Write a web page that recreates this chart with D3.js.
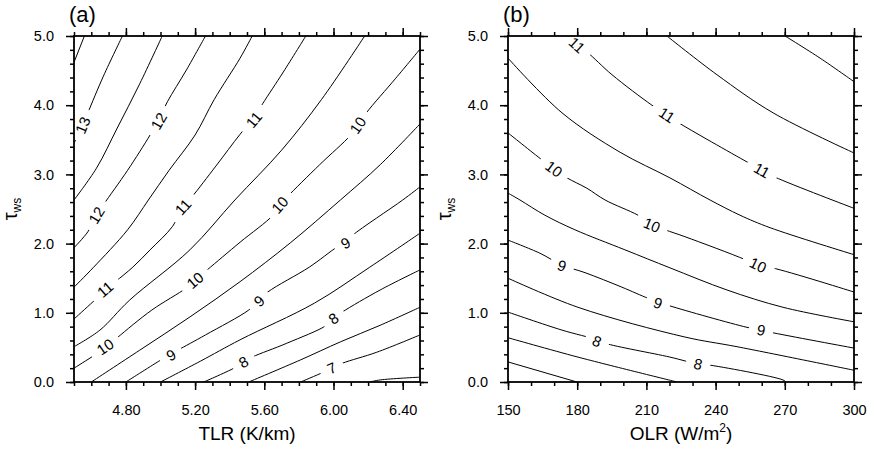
<!DOCTYPE html>
<meta charset="utf-8">
<script src="https://d3js.org/d3.v7.min.js"></script>
<style>
  body { margin: 0; background: #fff; }
  text { font-family: "Liberation Sans", Arial, Helvetica, sans-serif; fill: #000; }
</style>
<svg id="chart" width="870" height="453"></svg>
<script>

// ---- axes ----
var tauTicks = [0, 1, 2, 3, 4, 5];
var tlrTicks = [4.8, 5.2, 5.6, 6.0, 6.4];
var olrTicks = [150, 180, 210, 240, 270, 300];

// ---- panel (a): contours every 0.5, [TLR, tau] ----
var levelsA = [13.5, 13, 12.5, 12, 11.5, 11, 10.5, 10, 9.5, 9, 8.5, 8, 7.5, 7, 6.5];
var linesA = [
  [[4.56,5.0],[4.50,4.62]],
  [[4.78,5.0],[4.67,4.42],[4.58,3.89],[4.55,3.71],[4.50,3.45]],
  [[5.01,5.0],[4.88,4.31],[4.75,3.67],[4.63,3.09],[4.50,2.63]],
  [[5.26,5.0],[5.15,4.51],[5.04,4.05],[4.99,3.79],[4.94,3.57],[4.81,3.06],[4.67,2.56],[4.63,2.40],[4.58,2.17],[4.50,1.94]],
  [[5.53,5.0],[5.46,4.68],[5.31,4.08],[5.20,3.57],[5.05,3.06],[4.93,2.63],[4.81,2.20],[4.61,1.65],[4.50,1.37]],
  [[5.84,5.0],[5.71,4.48],[5.59,4.02],[5.54,3.82],[5.46,3.58],[5.32,3.12],[5.18,2.67],[5.13,2.53],[5.07,2.25],[4.94,1.91],[4.84,1.66],[4.74,1.45],[4.68,1.32],[4.61,1.16],[4.50,0.91]],
  [[6.18,5.0],[5.93,4.08],[5.70,3.35],[5.43,2.63],[5.17,1.91],[4.82,1.18],[4.65,0.75],[4.50,0.51]],
  [[6.50,4.81],[6.36,4.39],[6.19,3.89],[6.14,3.71],[6.10,3.57],[5.92,3.14],[5.73,2.67],[5.69,2.56],[5.65,2.41],[5.46,2.02],[5.27,1.62],[5.20,1.47],[5.15,1.36],[4.95,1.04],[4.75,0.64],[4.69,0.51],[4.62,0.39],[4.50,0.20]],
  [[6.50,3.73],[6.27,3.14],[6.04,2.63],[5.75,2.01],[5.46,1.45],[5.17,0.94],[4.88,0.46],[4.60,0]],
  [[6.50,2.82],[6.40,2.63],[6.11,2.12],[6.07,2.02],[6.02,1.95],[5.86,1.66],[5.62,1.30],[5.56,1.16],[5.51,1.04],[5.26,0.68],[5.10,0.46],[5.05,0.39],[4.99,0.30],[4.80,0]],
  [[6.50,2.15],[6.21,1.66],[5.89,1.14],[5.46,0.61],[5.23,0.30],[5.00,0]],
  [[6.50,1.62],[6.27,1.33],[6.05,1.01],[6.00,0.92],[5.96,0.82],[5.73,0.56],[5.53,0.36],[5.48,0.29],[5.44,0.22],[5.25,0]],
  [[6.50,1.08],[6.27,0.82],[6.04,0.58],[5.81,0.32],[5.51,0]],
  [[6.50,0.68],[6.25,0.43],[6.05,0.27],[5.99,0.20],[5.94,0.14],[5.81,0]],
  [[6.21,0],[6.27,0.03],[6.50,0.07]]
];
// [level, TLR, tau]
var labelsA = [
  [13, 4.55, 3.71],
  [12, 4.99, 3.77], [12, 4.63, 2.41],
  [11, 5.54, 3.79], [11, 5.13, 2.53], [11, 4.68, 1.34],
  [10, 6.14, 3.71], [10, 5.69, 2.56], [10, 5.20, 1.47], [10, 4.68, 0.51],
  [9, 6.07, 2.01], [9, 5.57, 1.17], [9, 5.06, 0.39],
  [8, 6.00, 0.92], [8, 5.48, 0.29],
  [7, 5.99, 0.20]
];

// ---- panel (b): contours every 0.5, [OLR, tau] ----
var levelsB = [12, 11.5, 11, 10.5, 10, 9.5, 9, 8.5, 8, 7.5, 7];
var linesB = [
  [[270.1,5.0],[285.3,4.68],[300,4.34]],
  [[218.9,5.0],[240.6,4.44],[264.9,3.89],[300,3.31]],
  [[175.6,5.0],[179.9,4.87],[184.2,4.77],[195.1,4.44],[212.4,4.00],[218.9,3.86],[223.3,3.76],[253.6,3.18],[260.1,3.06],[265.8,2.96],[300,2.51]],
  [[150,4.68],[173.4,3.89],[198.6,3.32],[220.2,2.95],[237.6,2.63],[250.6,2.41],[263.6,2.23],[300,1.84]],
  [[150,3.60],[164.7,3.21],[169.9,3.08],[175.6,2.95],[184.2,2.80],[192.1,2.63],[206.4,2.41],[212.4,2.28],[218.1,2.20],[226.7,2.10],[252.7,1.77],[258.4,1.68],[264.5,1.65],[300,1.30]],
  [[150,2.73],[155.2,2.63],[166.0,2.41],[179.0,2.20],[200.7,1.91],[220.2,1.65],[244.9,1.33],[269.2,1.08],[300,0.87]],
  [[150,2.05],[163.9,1.86],[173.4,1.69],[183.4,1.58],[199.4,1.37],[210.7,1.21],[215.0,1.16],[220.2,1.10],[253.6,0.79],[259.7,0.75],[263.6,0.72],[300,0.49]],
  [[150,1.50],[180.3,1.08],[226.7,0.65],[249.3,0.51],[300,0.17]],
  [[150,1.01],[173.4,0.75],[188.6,0.61],[192.1,0.56],[220.2,0.36],[232.4,0.26],[236.3,0.25],[269.2,0.03],[270.5,0]],
  [[150,0.64],[180.3,0.36],[223.3,0]],
  [[150,0.29],[179.9,0]]
];
// [level, OLR, tau]
var labelsB = [
  [11, 179.9, 4.87], [11, 218.9, 3.86], [11, 260.1, 3.06],
  [10, 169.9, 3.08], [10, 212.4, 2.27], [10, 258.4, 1.69],
  [9, 173.4, 1.68], [9, 215.0, 1.14], [9, 259.7, 0.75],
  [8, 188.6, 0.59], [8, 232.4, 0.26]
];

var svg = d3.select("#chart");
var plotTop = 36, size = 346;

var panels = [
  {tag: "(a)", left: 74, domain: [4.5, 6.5], major: tlrTicks,
   minor: d3.range(0, 21).map(function(i){ return 4.5 + i * 0.1; }),
   fmt: d3.format(".2f"), levels: levelsA, lines: linesA, labels: labelsA, title: "TLR (K/km)"},
  {tag: "(b)", left: 508, domain: [150, 300], major: olrTicks,
   minor: d3.range(150, 301, 10),
   fmt: d3.format("d"), levels: levelsB, lines: linesB, labels: labelsB, title: "OLR (W/m"}
];

var tauMinor = d3.range(0, 26).map(function(i){ return i * 0.2; });

panels.forEach(function(p, k) {
  var g = svg.append("g").attr("transform", "translate(" + p.left + "," + plotTop + ")");
  var x = d3.scaleLinear().domain(p.domain).range([0, size]);
  var y = d3.scaleLinear().domain([0, 5]).range([size, 0]);

  g.append("clipPath").attr("id", "clip" + k)
    .append("rect").attr("width", size).attr("height", size);

  var line = d3.line()
      .x(function(d){ return x(d[0]); })
      .y(function(d){ return y(d[1]); })
      .curve(d3.curveCatmullRom.alpha(0.5));

  var plot = g.append("g").attr("clip-path", "url(#clip" + k + ")");
  plot.selectAll("path")
    .data(p.lines)
    .enter()
    .append("path")
      .attr("d", line)
      .attr("fill", "none")
      .attr("stroke", "#000")
      .attr("stroke-width", 1);

  // line labels, rotated along the line, with a white gap under them
  p.labels.forEach(function(l) {
    var pts = p.lines[p.levels.indexOf(l[0])].map(function(d){ return [x(d[0]), y(d[1])]; });
    var lx = x(l[1]), ly = y(l[2]);
    var best = 1e9, ang = 0;
    for (var i = 0; i < pts.length - 1; i++) {
      var ax = pts[i][0], ay = pts[i][1], bx = pts[i+1][0], by = pts[i+1][1];
      var dx = bx - ax, dy = by - ay, len = dx*dx + dy*dy;
      var t = Math.max(0, Math.min(1, ((lx-ax)*dx + (ly-ay)*dy) / len));
      var ex = ax + t*dx - lx, ey = ay + t*dy - ly, dist = ex*ex + ey*ey;
      if (dist < best) { best = dist; ang = Math.atan2(dy, dx) * 180 / Math.PI; }
    }
    if (ang > 90) ang -= 180;
    if (ang < -90) ang += 180;
    var lg = plot.append("g").attr("transform", "translate(" + lx + "," + ly + ") rotate(" + ang + ")");
    var w = String(l[0]).length * 8.4 + 16;
    lg.append("rect").attr("x", -w/2).attr("y", -6).attr("width", w).attr("height", 12).attr("fill", "#fff");
    lg.append("text")
      .attr("text-anchor", "middle")
      .attr("dy", "0.36em")
      .style("font-size", "15px")
      .text(l[0]);
  });

  // ticks, outward on all four sides
  function ticks(axis, vals, len, fmt, pad) {
    return axis.tickValues(vals).tickSizeInner(len).tickSizeOuter(0)
      .tickPadding(pad || 3).tickFormat(fmt || "");
  }
  g.append("g").attr("transform", "translate(0," + size + ")")
    .call(ticks(d3.axisBottom(x), p.minor, 4));
  g.append("g").attr("transform", "translate(0," + size + ")")
    .call(ticks(d3.axisBottom(x), p.major, 8, p.fmt, 15));
  g.append("g").call(ticks(d3.axisTop(x), p.minor, 4));
  g.append("g").call(ticks(d3.axisTop(x), p.major, 8));
  g.append("g").call(ticks(d3.axisLeft(y), tauMinor, 4));
  g.append("g").call(ticks(d3.axisLeft(y), tauTicks, 8, d3.format(".1f"), 12));
  g.append("g").attr("transform", "translate(" + size + ",0)").call(ticks(d3.axisRight(y), tauMinor, 4));
  g.append("g").attr("transform", "translate(" + size + ",0)").call(ticks(d3.axisRight(y), tauTicks, 8));

  g.selectAll(".domain").remove();
  g.selectAll(".tick line").attr("stroke", "#000").attr("stroke-width", 1.5);
  g.selectAll(".tick text")
    .style("font-size", "14.5px")
    .style("font-family", "'Liberation Sans', Arial, sans-serif");

  g.append("rect")
    .attr("width", size).attr("height", size)
    .attr("fill", "none")
    .attr("stroke", "#000")
    .attr("stroke-width", 1.8);

  // x title
  var xt = g.append("text")
    .attr("x", size / 2).attr("y", 404)
    .attr("text-anchor", "middle")
    .style("font-size", "19px");
  xt.append("tspan").text(p.title);
  if (k == 1) {
    xt.append("tspan").attr("dy", -8).style("font-size", "12px").text("2");
    xt.append("tspan").attr("dy", 8).text(")");
  }

  // y title
  var yt = g.append("text")
    .attr("transform", "translate(-57," + (size / 2) + ") rotate(-90)")
    .attr("text-anchor", "middle")
    .style("font-size", "20px");
  yt.append("tspan").text("\u03c4");
  yt.append("tspan").attr("dy", 4).style("font-size", "12px").text("ws");

  // panel tag
  g.append("text")
    .attr("x", -5).attr("y", -14)
    .style("font-size", "22px")
    .text(p.tag);
});

</script>
